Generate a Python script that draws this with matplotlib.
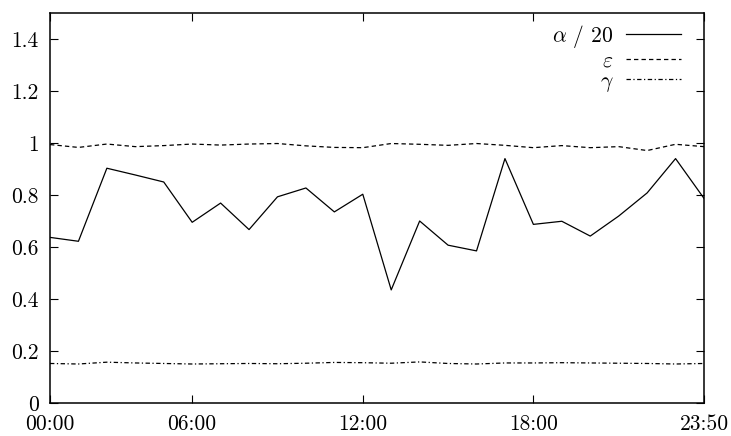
import numpy as np
import matplotlib
matplotlib.use("Agg")
import matplotlib.pyplot as plt
from matplotlib.ticker import FuncFormatter

plt.rcParams['font.family'] = ['cmr10', 'DejaVu Serif']
plt.rcParams['mathtext.fontset'] = 'cm'
plt.rcParams['axes.formatter.use_mathtext'] = True

# hourly samples, index 0..23
hours = np.arange(24)
alpha20 = [0.637, 0.622, 0.903, 0.877, 0.850, 0.695, 0.769, 0.667, 0.793, 0.827, 0.735, 0.803,
           0.435, 0.700, 0.607, 0.585, 0.940, 0.687, 0.699, 0.642, 0.719, 0.808, 0.940, 0.787]
epsilon = [0.994, 0.983, 0.996, 0.986, 0.990, 0.996, 0.992, 0.996, 0.998, 0.989, 0.983, 0.982,
           0.998, 0.995, 0.991, 0.998, 0.991, 0.982, 0.990, 0.982, 0.986, 0.971, 0.995, 0.986]
gamma = [0.152, 0.150, 0.157, 0.154, 0.152, 0.150, 0.151, 0.152, 0.151, 0.153, 0.156, 0.155,
         0.153, 0.158, 0.152, 0.150, 0.154, 0.154, 0.155, 0.154, 0.153, 0.152, 0.150, 0.152]

xtick_pos = [0, 5, 11, 17, 23]
xtick_labels = ['00:00', '06:00', '12:00', '18:00', '23:50']
yticks = [0, 0.2, 0.4, 0.6, 0.8, 1.0, 1.2, 1.4]

fig = plt.figure(figsize=(7.31, 4.36), dpi=100)
ax = fig.add_axes([50/731, 33/436, 654/731, 390/436])

ax.plot(hours, alpha20, color='black', lw=0.9, label=r'$\alpha$ / 20')
ax.plot(hours, epsilon, color='black', lw=0.9, dashes=(3.5, 2.5), label=r'$\varepsilon$')
ax.plot(hours, gamma, color='black', lw=0.9, dashes=(3.5, 2, 1, 2), label=r'$\gamma$')

ax.set_xlim(0, 23)
ax.set_ylim(0, 1.5)
ax.set_xticks(xtick_pos)
ax.set_xticklabels(xtick_labels)
ax.set_yticks(yticks)
ax.yaxis.set_major_formatter(FuncFormatter(lambda v, p: '%g' % round(v, 2)))

ax.tick_params(direction='in', length=6, width=0.8, top=True, right=True, labelsize=15.5)
ax.tick_params(axis='x', pad=8.5)
ax.tick_params(axis='y', pad=8)
for s in ax.spines.values():
    s.set_linewidth(1.1)

leg = ax.legend(loc='upper right', bbox_to_anchor=(0.965, 0.975), frameon=False,
                markerfirst=False, fontsize=15.5, handlelength=2.55, handletextpad=0.6,
                labelspacing=0.05, borderpad=0, borderaxespad=0)

fig.savefig('out.png', dpi=100)
